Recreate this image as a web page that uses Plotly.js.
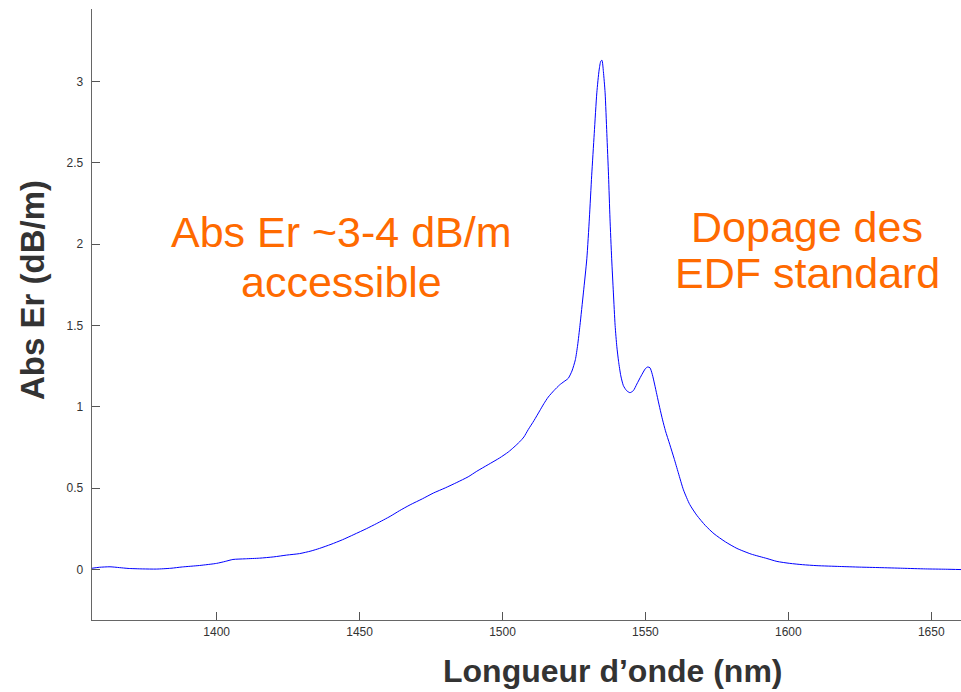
<!DOCTYPE html>
<html>
<head>
<meta charset="utf-8">
<script src="https://cdn.plot.ly/plotly-3.0.1.min.js"></script>
<style>html,body{margin:0;padding:0;background:#fff;}#chart{width:961px;height:692px;}</style>
</head>
<body>
<div id="chart"></div>
<script>
// Wavelength (nm)
const wavelength = [1356.4, 1359, 1362.7, 1366, 1369, 1374, 1379, 1384, 1388, 1394, 1400, 1403, 1405.7, 1410, 1415, 1420, 1424.5, 1429, 1433, 1436, 1440, 1444, 1448, 1452.5, 1456, 1460.7, 1464, 1467.7, 1472, 1475.8, 1480, 1484, 1488, 1491, 1495, 1499, 1502, 1504, 1506, 1507.5, 1509, 1511, 1513, 1514.5, 1516, 1518, 1520, 1521.5, 1523, 1524.3, 1525.5, 1526.3, 1527.1, 1528.3, 1529.5, 1530.4, 1531.2, 1532.1, 1533, 1533.8, 1534.4, 1534.8, 1535.3, 1535.9, 1536.5, 1537.1, 1537.6, 1538.2, 1538.8, 1539.4, 1540, 1540.6, 1541.4, 1542.3, 1543.4, 1544.6, 1545.8, 1547, 1548.5, 1550, 1550.8, 1551.6, 1552.4, 1553.2, 1554, 1555, 1556, 1557, 1558.5, 1560, 1561.5, 1563.3, 1565.5, 1568, 1571, 1574, 1578, 1582, 1587, 1592.5, 1596, 1600.5, 1605, 1610, 1618, 1625, 1632, 1640, 1648, 1655, 1660.4];
// Er absorption (dB/m)
const absorption = [0.008, 0.014, 0.017, 0.012, 0.007, 0.004, 0.003, 0.008, 0.016, 0.025, 0.038, 0.050, 0.062, 0.066, 0.070, 0.078, 0.089, 0.098, 0.114, 0.130, 0.155, 0.183, 0.215, 0.252, 0.283, 0.327, 0.362, 0.398, 0.435, 0.470, 0.502, 0.535, 0.570, 0.604, 0.645, 0.686, 0.722, 0.752, 0.785, 0.815, 0.860, 0.915, 0.975, 1.020, 1.060, 1.100, 1.135, 1.155, 1.175, 1.220, 1.290, 1.380, 1.500, 1.700, 1.910, 2.160, 2.420, 2.680, 2.930, 3.070, 3.125, 3.130, 3.060, 2.930, 2.680, 2.420, 2.160, 1.910, 1.700, 1.500, 1.370, 1.280, 1.190, 1.130, 1.100, 1.087, 1.100, 1.140, 1.190, 1.235, 1.245, 1.240, 1.200, 1.140, 1.075, 0.995, 0.920, 0.853, 0.770, 0.685, 0.595, 0.490, 0.400, 0.333, 0.270, 0.220, 0.170, 0.130, 0.095, 0.068, 0.050, 0.038, 0.030, 0.024, 0.019, 0.015, 0.012, 0.008, 0.004, 0.002, 0.000];
const xTicks = [1400, 1450, 1500, 1550, 1600, 1650];
const yTicks = [0, 0.5, 1, 1.5, 2, 2.5, 3];
const leftNote = ["Abs Er ~3-4 dB/m", "accessible"];
const rightNote = ["Dopage des", "EDF standard"];
const xTitle = "Longueur d\u2019onde (nm)";
const yTitle = "Abs Er (dB/m)";

const W = 961, H = 692, L = 92, T = 9, B = 620, R = 961;
const px = v => (v - L) / (R - L);
const py = v => (B - v) / (B - T);
const orange = "#FF6A00";
const font = "Liberation Sans, Arial, sans-serif";

const ann = [];
function note(text, cx, cy, size) {
  ann.push({text: text, xref: "paper", yref: "paper", x: px(cx), y: py(cy),
    xanchor: "center", yanchor: "middle", showarrow: false,
    font: {family: font, size: size, color: orange}});
}
note(leftNote[0], 341, 232, 43);
note(leftNote[1], 341, 282, 43);
note(rightNote[0], 807, 227, 43);
note(rightNote[1], 807, 273, 43);
ann.push({text: "<b>" + xTitle + "</b>", xref: "paper", yref: "paper", x: px(613), y: py(671),
  xanchor: "center", yanchor: "middle", showarrow: false,
  font: {family: font, size: 32, color: "#333333"}});
ann.push({text: "<b>" + yTitle + "</b>", xref: "paper", yref: "paper", x: px(33), y: py(290),
  xanchor: "center", yanchor: "middle", showarrow: false, textangle: -90,
  font: {family: font, size: 33, color: "#333333"}});

const data = [{
  x: wavelength, y: absorption, type: "scatter", mode: "lines",
  line: {color: "#0000FF", width: 1, shape: "spline", smoothing: 0.6},
  hoverinfo: "skip"
}];

const axisCommon = {
  showgrid: false, zeroline: false, showline: true, linecolor: "#666666", linewidth: 1.3,
  ticks: "inside", ticklen: 8, tickwidth: 1, tickcolor: "#555555",
  tickfont: {family: font, size: 12, color: "#333333"}, mirror: false
};

const layout = {
  width: W, height: H,
  margin: {l: L, r: W - R, t: T, b: H - B, pad: 0},
  paper_bgcolor: "#ffffff", plot_bgcolor: "#ffffff",
  showlegend: false,
  xaxis: Object.assign({}, axisCommon, {range: [1356.4, 1660.4], tickvals: xTicks, ticktext: xTicks.map(String)}),
  yaxis: Object.assign({}, axisCommon, {range: [-0.31, 3.445], tickvals: yTicks, ticktext: yTicks.map(String), ticklabelstandoff: 5}),
  annotations: ann
};

Plotly.newPlot("chart", data, layout, {displayModeBar: false, staticPlot: true});
</script>
</body>
</html>
